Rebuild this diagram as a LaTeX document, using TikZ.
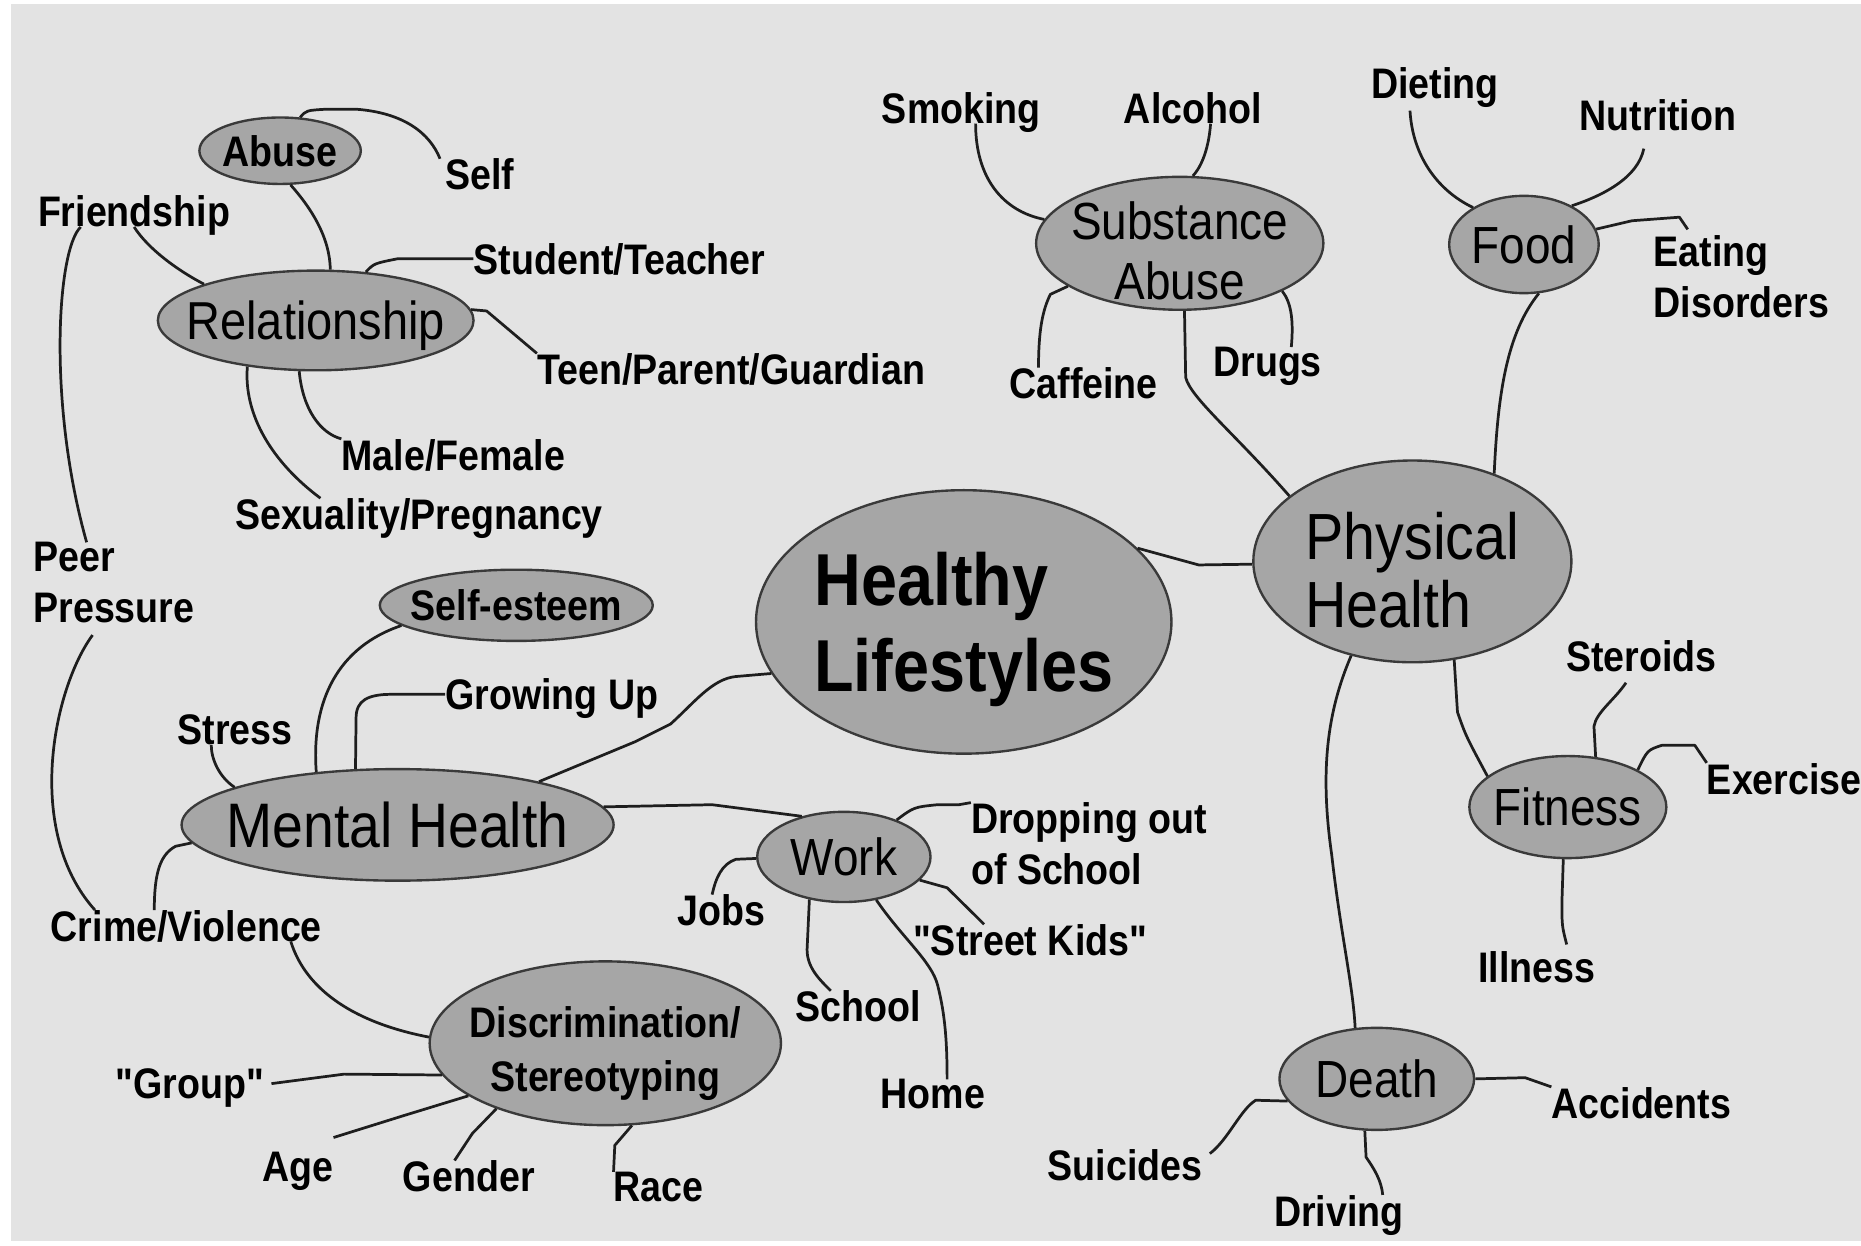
\documentclass[tikz,border=0pt]{standalone}
\usepackage{fontspec}
\newfontfamily\lsans[FakeStretch=0.88]{Liberation Sans}
\usetikzlibrary{shapes.geometric}
\definecolor{bgc}{HTML}{E3E3E3}
\definecolor{ellc}{HTML}{A6A6A6}
\definecolor{edgec}{HTML}{3A3A3A}
\definecolor{linec}{HTML}{1E1E1E}
\begin{document}
\begin{tikzpicture}[x=1pt,y=-1pt,
  ell/.style={ellipse, draw=edgec, fill=ellc, line width=2pt, inner sep=-300pt, text depth=0pt, text=black},
  lbl/.style={inner sep=0pt, text depth=0pt, font=\lsans\bfseries\fontsize{36}{43}\selectfont},
  conn/.style={line width=2.3pt, draw=linec, line join=round}]
\useasboundingbox (0,0) rectangle (1568,1049);
\fill[white] (0,0) rectangle (1568,1049);
\fill[bgc] (9,3) rectangle (1568,1046);

% ellipses
\node[ell, minimum width=136, minimum height=56, font=\lsans\bfseries\fontsize{36}{43}\selectfont] (abuse) at (236,127) {Abuse};
\node[ell, minimum width=266, minimum height=84, font=\lsans\fontsize{45}{50}\selectfont] (rel) at (266,270) {Relationship};
\node[ell, minimum width=230, minimum height=60, font=\lsans\bfseries\fontsize{36}{43}\selectfont] (selfesteem) at (435,510) {Self-esteem};
\node[ell, minimum width=364, minimum height=94, font=\lsans\fontsize{53}{60}\selectfont] (mental) at (335,695) {Mental Health};
\node[ell, minimum width=146, minimum height=76, font=\lsans\fontsize{44}{50}\selectfont] (work) at (711,722) {Work};
\node[ell, minimum width=296, minimum height=138, align=center, font=\lsans\bfseries\fontsize{36}{45}\selectfont] (discr) at (510,879) {\rule{0pt}{36pt}Discrimination/\\Stereotyping};
\node[ell, minimum width=350, minimum height=222, align=left, font=\lsans\bfseries\fontsize{62}{73}\selectfont] (healthy) at (812,524) {Healthy\\Lifestyles};
\node[ell, minimum width=242, minimum height=112, align=center, font=\lsans\fontsize{44}{50}\selectfont] (subst) at (994,205) {\rule{0pt}{44pt}Substance\\Abuse};
\node[ell, minimum width=126, minimum height=82, font=\lsans\fontsize{44}{50}\selectfont] (food) at (1284,206) {Food};
\node[ell, minimum width=268, minimum height=170, align=left, font=\lsans\fontsize{55}{57}\selectfont] (phys) at (1190,473) {\rule{0pt}{54pt}Physical\\Health};
\node[ell, minimum width=166, minimum height=86, font=\lsans\fontsize{44}{50}\selectfont] (fitness) at (1321,680) {Fitness};
\node[ell, minimum width=164, minimum height=86, font=\lsans\fontsize{44}{50}\selectfont] (death) at (1160,909) {Death};

% labels
\node[lbl] (selflbl) at (404,147) {Self};
\node[lbl] (friend) at (113,178) {Friendship};
\node[lbl] (stud) at (522,218) {Student/Teacher};
\node[lbl] (teen) at (616,311) {Teen/Parent/Guardian};
\node[lbl] (male) at (382,383) {Male/Female};
\node[lbl] (sexu) at (353,433) {Sexuality/Pregnancy};
\node[lbl, align=left, anchor=west] (peer) at (28,491) {Peer\\Pressure};
\node[lbl] (grow) at (465,585) {Growing Up};
\node[lbl] (stress) at (198,615) {Stress};
\node[lbl] (crime) at (157,780) {Crime/Violence};
\node[lbl, align=left, anchor=west] (drop) at (818,711) {Dropping out\\of School};
\node[lbl] (jobs) at (608,767) {Jobs};
\node[lbl] (street) at (868,792) {"Street Kids"};
\node[lbl] (school) at (723,848) {School};
\node[lbl] (home) at (786,922) {Home};
\node[lbl] (group) at (160,913) {"Group"};
\node[lbl] (age) at (251,983) {Age};
\node[lbl] (gender) at (395,991) {Gender};
\node[lbl] (race) at (555,1000) {Race};
\node[lbl] (smoking) at (810,91) {Smoking};
\node[lbl] (alcohol) at (1005,91) {Alcohol};
\node[lbl] (caffeine) at (913,323) {Caffeine};
\node[lbl] (drugs) at (1068,305) {Drugs};
\node[lbl] (dieting) at (1209,70) {Dieting};
\node[lbl] (nutrition) at (1397,97) {Nutrition};
\node[lbl, align=left, anchor=west] (eating) at (1393,233) {Eating\\Disorders};
\node[lbl] (steroids) at (1383,553) {Steroids};
\node[lbl, anchor=west] (exercise) at (1438,656) {Exercise};
\node[lbl] (illness) at (1295,815) {Illness};
\node[lbl] (accidents) at (1383,929) {Accidents};
\node[lbl] (suicides) at (948,982) {Suicides};
\node[lbl] (driving) at (1128,1020) {Driving};

% connectors: relationship cluster
\draw[conn] (abuse.59) .. controls (258,93) .. (275,92) -- (300,92) .. controls (340,95) and (362,112) .. ([xshift=-4pt]selflbl.north west);
\draw[conn] (abuse.-73) .. controls (262,175) and (278,200) .. (rel.74);
\draw[conn] (friend.south) .. controls (125,210) and (150,228) .. (rel.162);
\draw[conn] ([xshift=-45pt]friend.south) .. controls (48,210) and (40,340) .. ([xshift=45pt]peer.north west);
\draw[conn] ([xshift=50pt,yshift=-10pt]peer.south west) .. controls (45,580) and (20,700) .. ([xshift=-77pt]crime.north);
\draw[conn] (rel.44) .. controls (315,222) .. (335,218) -- (385,218) -- (stud.west);
\draw[conn] (rel.4) -- (410,262) -- (teen.north west);
\draw[conn] (rel.-108) .. controls (255,345) and (270,365) .. (male.north west);
\draw[conn] (rel.-146) .. controls (205,350) and (230,390) .. ([xshift=-83pt]sexu.north);

% mental health cluster
\draw[conn] (mental.147) .. controls (262,590) and (285,545) .. (selfesteem.190);
\draw[conn] (mental.127) -- (300,605) .. controls (300,590) and (310,585) .. (330,585) -- (grow.west);
\draw[conn] (mental.167) .. controls (185,655) and (178,640) .. ([xshift=-20pt]stress.south);
\draw[conn] (mental.185) -- (148,713) .. controls (135,720) and (130,735) .. ([xshift=-27pt]crime.north);
\draw[conn] (mental.17) -- (535,625) -- (565,610) .. controls (585,592) and (600,572) .. (620,570) -- (healthy.195);
\draw[conn] (mental.5) -- (600,678) -- (work.136);
\draw[conn] (healthy.23) -- (1010,476) -- (phys.181);

% discrimination cluster
\draw[conn] ([xshift=88pt]crime.south) .. controls (258,835) and (300,862) .. (discr.178);
\draw[conn] (discr.191) -- (290,905) -- ([xshift=6pt]group.east);
\draw[conn] (discr.201) -- (340,940) -- ([xshift=30pt,yshift=12pt]age.north);
\draw[conn] (discr.211) -- (398,955) -- ([xshift=-12pt]gender.north);
\draw[conn] (discr.-72) -- (518,965) -- (race.north west);

% work cluster
\draw[conn] (work.35) .. controls (770,680) .. (790,678) -- (808,678) -- (drop.north west);
\draw[conn] (work.181) -- (620,724) .. controls (608,728) and (603,740) .. ([xshift=-8pt]jobs.north);
\draw[conn] (work.-17) -- (798,748) -- ([xshift=60pt]street.north west);
\draw[conn] (work.-129) -- (680,800) .. controls (680,815) and (690,825) .. ([xshift=-23pt]school.north);
\draw[conn] (work.-53) .. controls (760,790) and (785,810) .. (790,830) .. controls (795,850) and (798,870) .. ([xshift=12pt]home.north);

% substance abuse cluster
\draw[conn] ([xshift=12pt]smoking.south) .. controls (822,150) and (845,178) .. (subst.170);
\draw[conn] ([xshift=15pt]alcohol.south) .. controls (1018,130) and (1010,143) .. (subst.79);
\draw[conn] (subst.201) -- (885,248) .. controls (878,262) and (875,280) .. ([xshift=-38pt]caffeine.north);
\draw[conn] (subst.-25) .. controls (1088,255) and (1090,270) .. ([xshift=20pt]drugs.north);
\draw[conn] (subst.-86) -- (999,318) .. controls (1003,335) and (1040,365) .. (phys.152);

% food cluster
\draw[conn] ([xshift=-21pt,yshift=-10pt]dieting.south) .. controls (1190,130) and (1210,160) .. (food.144);
\draw[conn] ([xshift=-12pt,yshift=-15pt]nutrition.south) .. controls (1380,150) and (1350,165) .. (food.39);
\draw[conn] (food.12) -- (1375,186) -- (1415,183) -- ([xshift=29pt,yshift=5pt]eating.north west);
\draw[conn] (food.-73) .. controls (1270,280) and (1262,330) .. (phys.47);

% physical health cluster
\draw[conn] (phys.-67) -- (1228,600) .. controls (1235,620) .. (fitness.159);
\draw[conn] (phys.-123) .. controls (1118,600) and (1112,650) .. (1122,720) .. controls (1130,790) and (1140,830) .. (death.113);
\draw[conn] (fitness.61) -- (1343,612) .. controls (1345,600) and (1360,590) .. ([xshift=-13pt,yshift=-9pt]steroids.south);
\draw[conn] (fitness.28) .. controls (1388,632) .. (1400,628) -- (1428,628) -- (exercise.north west);
\draw[conn] (fitness.-95) -- (1316,760) .. controls (1316,780) .. ([xshift=25pt,yshift=6pt]illness.north);
\draw[conn] (death.0) -- (1285,908) -- (accidents.north west);
\draw[conn] (death.194) -- (1058,927) .. controls (1045,935) and (1035,960) .. ([xshift=6pt,yshift=10pt]suicides.east);
\draw[conn] (death.-103) -- (1151,975) .. controls (1158,985) and (1164,995) .. ([xshift=37pt]driving.north);
\end{tikzpicture}
\end{document}
